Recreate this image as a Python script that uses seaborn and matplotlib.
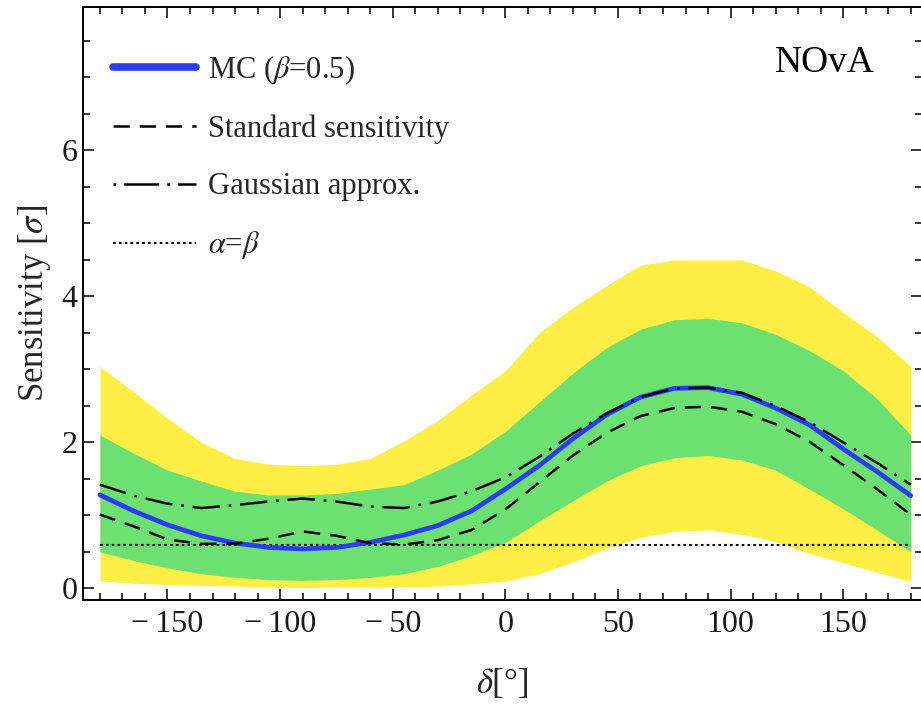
import numpy as np
import pandas as pd
import matplotlib
matplotlib.use("Agg")
import matplotlib.pyplot as plt
import seaborn as sns
from matplotlib.lines import Line2D
from matplotlib.ticker import MultipleLocator, FuncFormatter

# ---------------- data ----------------
delta = [-180, -165, -150, -135, -120, -105, -90, -75, -60, -45, -30, -15,
         0, 15, 30, 45, 60, 75, 90, 105, 120, 135, 150, 165, 180]

mc_sens = [1.28, 1.06, 0.87, 0.72, 0.62, 0.56, 0.54, 0.56, 0.63, 0.73, 0.86, 1.06,
           1.36, 1.68, 2.05, 2.38, 2.62, 2.74, 2.75, 2.66, 2.47, 2.24, 1.91, 1.60, 1.27]

standard_sens = [1.01, 0.85, 0.67, 0.61, 0.61, 0.68, 0.78, 0.72, 0.62, 0.60, 0.66, 0.80,
                 1.08, 1.45, 1.82, 2.13, 2.36, 2.47, 2.49, 2.42, 2.25, 2.01, 1.69, 1.36, 1.01]

gaussian_sens = [1.42, 1.27, 1.16, 1.10, 1.14, 1.19, 1.23, 1.19, 1.12, 1.10, 1.19, 1.33,
                 1.52, 1.80, 2.12, 2.40, 2.62, 2.74, 2.75, 2.68, 2.50, 2.28, 2.00, 1.72, 1.42]

band1_low = [0.50, 0.38, 0.28, 0.20, 0.15, 0.12, 0.11, 0.12, 0.15, 0.20, 0.30, 0.45,
             0.63, 0.92, 1.20, 1.47, 1.68, 1.79, 1.82, 1.76, 1.62, 1.36, 1.09, 0.80, 0.50]
band1_high = [2.10, 1.85, 1.62, 1.47, 1.33, 1.28, 1.28, 1.30, 1.36, 1.42, 1.62, 1.84,
              2.15, 2.55, 2.95, 3.30, 3.55, 3.68, 3.70, 3.64, 3.48, 3.26, 2.98, 2.60, 2.10]
band2_low = [0.10, 0.07, 0.05, 0.04, 0.03, 0.02, 0.01, 0.02, 0.02, 0.02, 0.03, 0.06,
             0.10, 0.20, 0.36, 0.55, 0.70, 0.78, 0.80, 0.74, 0.64, 0.48, 0.35, 0.22, 0.09]
band2_high = [3.04, 2.69, 2.33, 2.00, 1.78, 1.70, 1.68, 1.70, 1.78, 2.02, 2.30, 2.65,
              2.98, 3.50, 3.85, 4.15, 4.43, 4.50, 4.50, 4.50, 4.35, 4.13, 3.78, 3.45, 3.04]

alpha_beta_level = 0.6

legend_labels = [r"MC ($\beta$=0.5)", "Standard sensitivity", "Gaussian approx.",
                 r"$\alpha$=$\beta$"]

YELLOW = "#FFEE45"
GREEN = "#6CE172"
BLUE = "#2B3CF5"

DASHED = [6.5, 4]
DASHDOT = [11, 3.5, 1.1, 3.5]
DOTTED = [1.3, 1.5]

# ---------------- style ----------------
sns.set_theme(style="ticks")
plt.rcParams["font.family"] = ["Liberation Serif", "DejaVu Serif"]
plt.rcParams["mathtext.fontset"] = "stix"

fig = plt.figure(figsize=(9.21, 7.04), dpi=100)
ax = fig.add_axes([83 / 921, 1 - 600 / 704, 839 / 921, (600 - 6.7) / 704])

df = pd.DataFrame({"delta": delta, "mc": mc_sens, "std": standard_sens,
                   "gauss": gaussian_sens})

ax.fill_between(delta, band2_low, band2_high, color=YELLOW, lw=0, zorder=1)
ax.fill_between(delta, band1_low, band1_high, color=GREEN, lw=0, zorder=2)

ab = ax.hlines(alpha_beta_level, -180, 180, color="black", lw=1.5, zorder=3)
ab.set_linestyle((0, DOTTED))

sns.lineplot(data=df, x="delta", y="mc", ax=ax, color=BLUE, lw=3.4,
             sort=False, estimator=None, zorder=4)
sns.lineplot(data=df, x="delta", y="std", ax=ax, color="black", lw=1.8,
             sort=False, estimator=None, zorder=5)
ax.lines[-1].set_dashes(DASHED)
sns.lineplot(data=df, x="delta", y="gauss", ax=ax, color="black", lw=1.8,
             sort=False, estimator=None, zorder=5)
ax.lines[-1].set_dashes(DASHDOT)

# ---------------- axes ----------------
ax.set_xlim(-187.5, 185)
ax.set_ylim(-0.16, 7.97)
ax.set_xticks([-150, -100, -50, 0, 50, 100, 150])
ax.set_yticks([0, 2, 4, 6])
ax.xaxis.set_minor_locator(MultipleLocator(10))
ax.yaxis.set_minor_locator(MultipleLocator(0.5))


def fmt(v, pos):
    v = int(round(v))
    return ("\u2212\u2009" + str(-v)) if v < 0 else str(v)


ax.xaxis.set_major_formatter(FuncFormatter(fmt))
ax.tick_params(which="both", direction="in", top=True, right=True,
               color="black", width=1.1, labelsize=23, labelcolor="#1a1a1a")
ax.tick_params(which="major", length=8)
ax.tick_params(which="minor", length=5)
ax.tick_params(axis="x", pad=7)
ax.tick_params(axis="y", pad=4)
for s in ax.spines.values():
    s.set_linewidth(1.4)
    s.set_color("black")
    s.set_visible(True)

ax.set_xlabel(r"$\delta$[°]", fontsize=25, labelpad=20)
ax.set_ylabel(r"Sensitivity [$\sigma$]", fontsize=25, labelpad=6)

ax.text(0.884, 0.905, "NOvA", transform=ax.transAxes, fontsize=27,
        ha="center", va="center", color="black")

handles = [
    Line2D([], [], color=BLUE, lw=5.5),
    Line2D([], [], color="black", lw=1.8, dashes=DASHED),
    Line2D([], [], color="black", lw=1.8, dashes=[1.1, 3.2, 14, 3.2]),
    Line2D([], [], color="black", lw=1.5, dashes=DOTTED),
]
ax.legend(handles, legend_labels, loc="upper left", bbox_to_anchor=(0.036, 0.922),
          frameon=False, fontsize=22, handlelength=2.7, handletextpad=0.4,
          labelspacing=0.92, borderpad=0, borderaxespad=0)

fig.savefig("out.png", dpi=100)
